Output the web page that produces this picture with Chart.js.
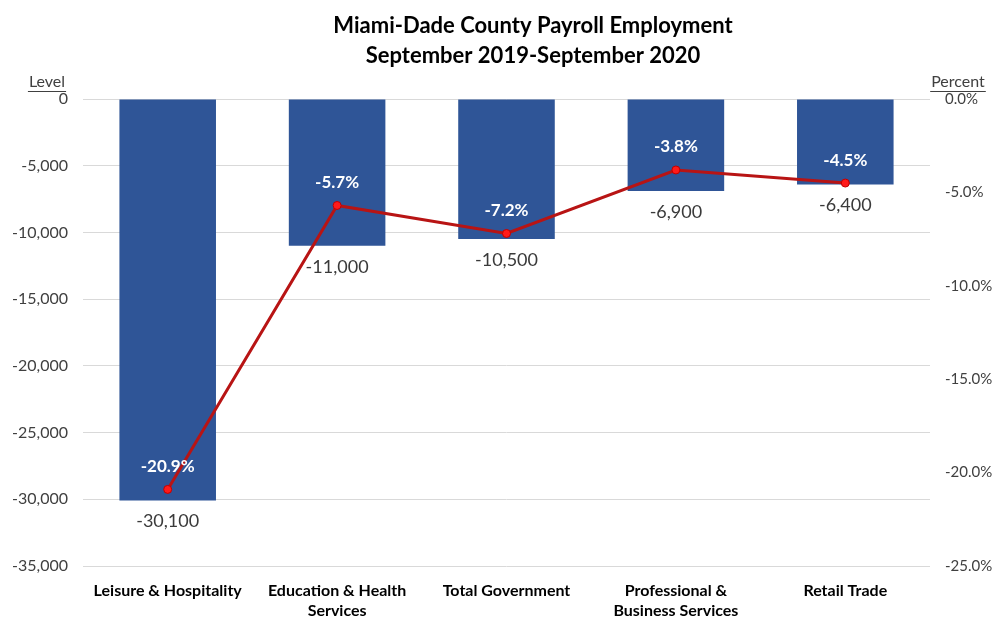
<!DOCTYPE html>
<html>
<head>
<meta charset="utf-8">
<script src="https://cdn.jsdelivr.net/npm/chart.js@4"></script>
<style>
  body { margin: 0; background: #fff; }
  #wrap { width: 997px; height: 619px; }
</style>
</head>
<body>
<div id="wrap"><canvas id="payroll"></canvas></div>
<script>
// categories and values
var categories = [
    "Leisure & Hospitality",
    ["Education & Health", "Services"],
    "Total Government",
    ["Professional &", "Business Services"],
    "Retail Trade"
];
var levelChange = [-30100, -11000, -10500, -6900, -6400];
var percentChange = [-20.9, -5.7, -7.2, -3.8, -4.5];
var titleLines = ["Miami-Dade County Payroll Employment", "September 2019-September 2020"];

var FONT = "Lato, 'Open Sans', sans-serif";

function fmtLevel(v) {
    return v.toLocaleString("en-US");
}

// draws the title, the axis captions and the value labels
var labelsPlugin = {
    id: "labelsPlugin",
    afterDatasetsDraw: function (chart) {
        var ctx = chart.ctx;
        ctx.save();

        // bar value labels, under the end of each bar
        var barMeta = chart.getDatasetMeta(1);
        ctx.font = "18px " + FONT;
        ctx.fillStyle = "#3a3a3a";
        ctx.textAlign = "center";
        ctx.textBaseline = "middle";
        barMeta.data.forEach(function (bar, i) {
            ctx.fillText(fmtLevel(levelChange[i]), bar.x, bar.y + 21);
        });

        // percent labels, above each point
        var lineMeta = chart.getDatasetMeta(0);
        ctx.font = "bold 17px " + FONT;
        ctx.fillStyle = "#ffffff";
        lineMeta.data.forEach(function (pt, i) {
            ctx.fillText(percentChange[i].toFixed(1) + "%", pt.x, pt.y - 23);
        });

        // title
        ctx.fillStyle = "#000000";
        ctx.font = "bold 22px " + FONT;
        ctx.fillText(titleLines[0], 533, 26);
        ctx.fillText(titleLines[1], 533, 56);

        // axis captions, underlined
        ctx.font = "16px " + FONT;
        ctx.fillStyle = "#404040";
        ctx.strokeStyle = "#404040";
        ctx.lineWidth = 1;
        var caps = [["Level", 47], ["Percent", 958]];
        caps.forEach(function (c) {
            ctx.fillText(c[0], c[1], 82);
            var w = ctx.measureText(c[0]).width;
            ctx.beginPath();
            ctx.moveTo(c[1] - w / 2 - 1, 91.5);
            ctx.lineTo(c[1] + w / 2 + 1, 91.5);
            ctx.stroke();
        });
        ctx.restore();
    }
};

var ctx = document.getElementById("payroll").getContext("2d");
var chart = new Chart(ctx, {
    type: "bar",
    data: {
        labels: categories,
        datasets: [{
            type: "line",
            label: "Percent",
            data: percentChange,
            yAxisID: "y1",
            borderColor: "#B81414",
            borderWidth: 3,
            pointRadius: 4,
            pointBackgroundColor: "#FF1a1a",
            pointBorderColor: "#C00000",
            pointBorderWidth: 1,
            tension: 0,
            order: 0
        }, {
            type: "bar",
            label: "Level",
            data: levelChange,
            yAxisID: "y",
            backgroundColor: "#2F5597",
            categoryPercentage: 1,
            barPercentage: 0.57,
            order: 1
        }]
    },
    options: {
        responsive: true,
        maintainAspectRatio: false,
        animation: false,
        layout: { padding: { top: 99, left: 0, right: 0, bottom: 0 } },
        plugins: {
            legend: { display: false },
            title: { display: false },
            tooltip: { enabled: false }
        },
        scales: {
            x: {
                grid: { display: false, drawTicks: false },
                border: { display: false },
                ticks: {
                    color: "#000000",
                    font: { family: FONT, size: 16, weight: "bold", lineHeight: 1.3 },
                    padding: 14,
                    maxRotation: 0,
                    autoSkip: false
                },
                afterFit: function (s) { s.height = 53; }
            },
            y: {
                position: "left",
                min: -35000,
                max: 0,
                grid: { color: "#D9D9D9", drawTicks: false },
                border: { display: false },
                ticks: {
                    stepSize: 5000,
                    color: "#404040",
                    font: { family: FONT, size: 16 },
                    padding: 15,
                    callback: function (v) { return fmtLevel(v); }
                },
                afterFit: function (s) { s.width = 83; }
            },
            y1: {
                position: "right",
                min: -25,
                max: 0,
                grid: { display: false, drawTicks: false },
                border: { display: false },
                ticks: {
                    stepSize: 5,
                    color: "#404040",
                    font: { family: FONT, size: 15 },
                    padding: 15,
                    callback: function (v) { return v.toFixed(1) + "%"; }
                },
                afterFit: function (s) { s.width = 67; }
            }
        }
    },
    plugins: [labelsPlugin]
});
</script>
</body>
</html>
